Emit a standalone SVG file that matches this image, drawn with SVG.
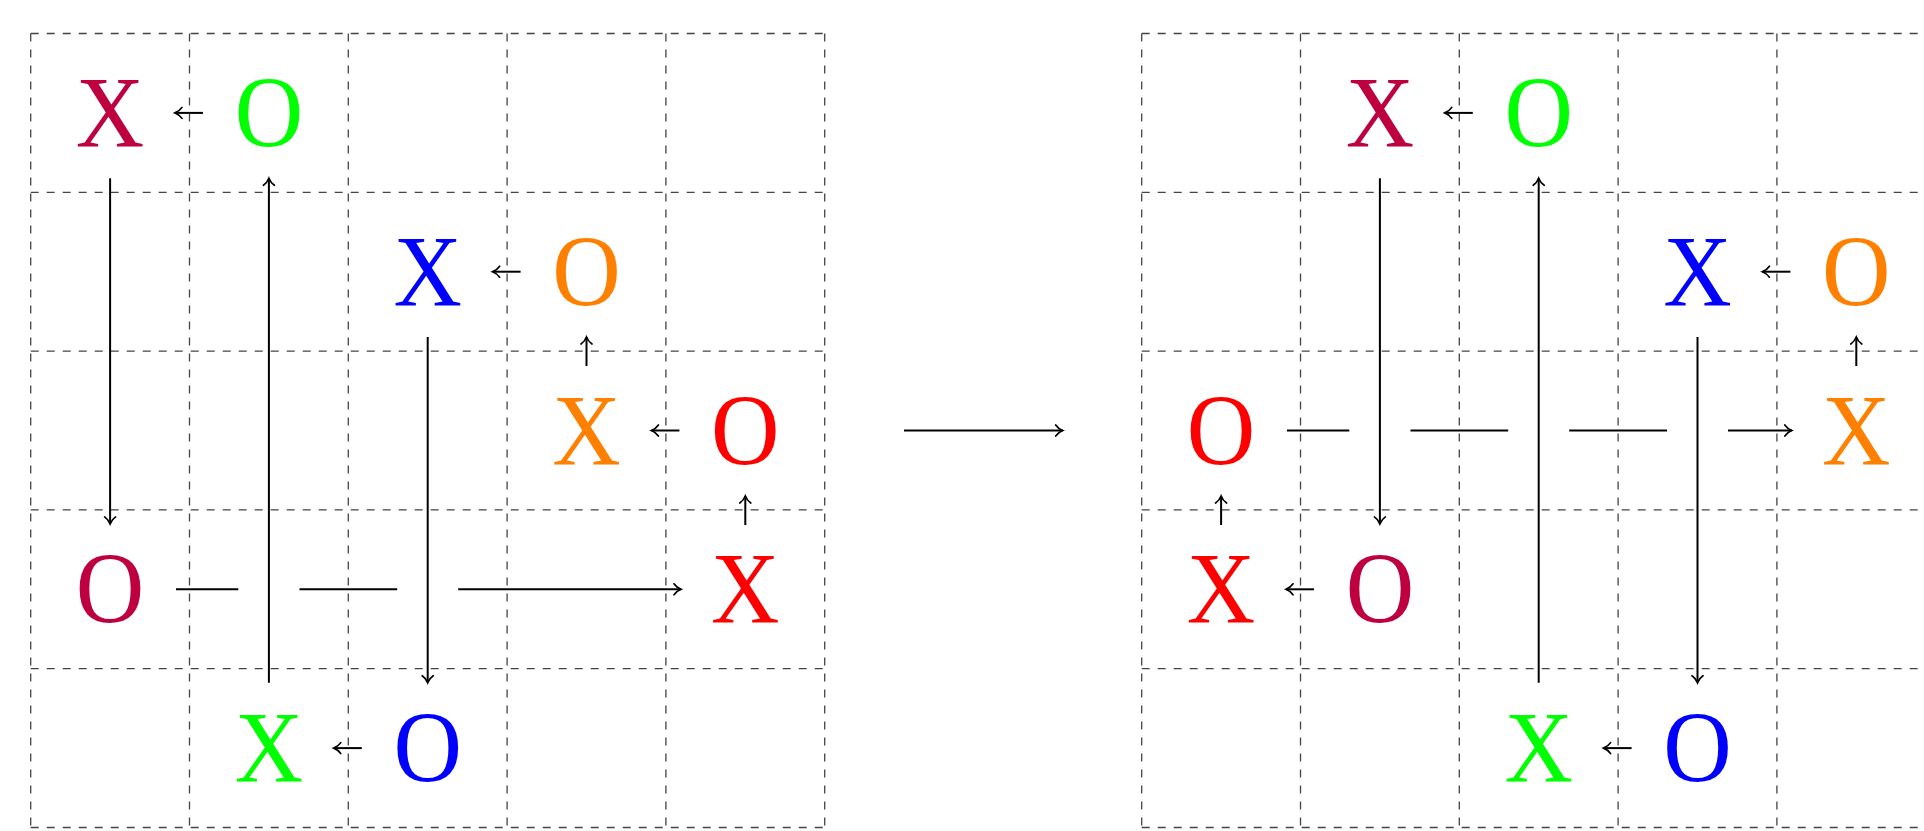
<svg xmlns="http://www.w3.org/2000/svg" width="1924" height="831" viewBox="0 0 1924 831">
<style>
.grid{stroke:#444;stroke-width:1.3;stroke-dasharray:8 8;fill:none}
.c{stroke:#000;stroke-width:2;fill:none}
.a{stroke:#000;stroke-width:2;fill:none;marker-end:url(#ah)}
.t{font-family:"Liberation Serif","Times New Roman",serif;font-size:102px;text-anchor:middle}
.pu{fill:#BF0040}.gr{fill:#00FF00}.bl{fill:#0000FF}.or{fill:#FF8000}.rd{fill:#FF0000}
</style>
<defs>
<marker id="ah" markerUnits="userSpaceOnUse" orient="auto" markerWidth="20" markerHeight="20" refX="0" refY="0" viewBox="-10 -10 20 20" overflow="visible">
<path d="M-7,-5.5 C-5,-2.5 -1.5,-0.6 0,0 C-1.5,0.6 -5,2.5 -7,5.5" stroke="#000" stroke-width="1.7" fill="none" stroke-linecap="round"/>
</marker>
</defs>
<g id="grid-left" class="grid">
<path d="M30.7,33.5V827.5M189.5,33.5V827.5M348.3,33.5V827.5M507.1,33.5V827.5M665.9,33.5V827.5M824.7,33.5V827.5"/>
<path d="M30.7,33.5H824.7M30.7,192.3H824.7M30.7,351.1H824.7M30.7,509.9H824.7M30.7,668.7H824.7M30.7,827.5H824.7"/>
</g>
<g id="grid-right" class="grid">
<path d="M1141.7,33.5V827.5M1300.5,33.5V827.5M1459.3,33.5V827.5M1618.1,33.5V827.5M1776.9,33.5V827.5M1935.7,33.5V827.5"/>
<path d="M1141.7,33.5H1935.7M1141.7,192.3H1935.7M1141.7,351.1H1935.7M1141.7,509.9H1935.7M1141.7,668.7H1935.7M1141.7,827.5H1935.7"/>
</g>
<g id="connectors">
<path class="a" d="M203,112.9H175"/>
<path class="a" d="M520.6,271.7H492.6"/>
<path class="a" d="M679.4,430.5H651.4"/>
<path class="a" d="M361.8,748.1H333.8"/>
<path class="a" d="M745.3,525V496"/>
<path class="a" d="M586.5,366V337"/>
<path class="a" d="M110.1,178.3V523.9"/>
<path class="a" d="M268.9,682.7V178.3"/>
<path class="a" d="M427.7,337.1V682.7"/>
<path class="c" d="M176,589.3H238.3M299.5,589.3H397.2"/>
<path class="a" d="M458.2,589.3H681"/>
<path class="a" d="M904,430.5H1062.7"/>
<path class="a" d="M1472.8,112.9H1444.8"/>
<path class="a" d="M1790.4,271.7H1762.4"/>
<path class="a" d="M1314,589.3H1286"/>
<path class="a" d="M1631.6,748.1H1603.6"/>
<path class="a" d="M1221.1,525V496"/>
<path class="a" d="M1856.3,366V337"/>
<path class="a" d="M1379.9,178.3V523.9"/>
<path class="a" d="M1538.7,682.7V178.3"/>
<path class="a" d="M1697.5,337.1V682.7"/>
<path class="c" d="M1287,430.5H1349.3M1410.5,430.5H1508.2M1569.2,430.5H1667"/>
<path class="a" d="M1728,430.5H1791.8"/>
</g>
<g id="L-X-purple" transform="translate(110.1,146.9) scale(0.93,1)"><text class="t pu">X</text></g>
<g id="L-O-green" transform="translate(268.9,146.9) scale(0.93,1)"><text class="t gr">O</text></g>
<g id="L-X-blue" transform="translate(427.7,305.7) scale(0.93,1)"><text class="t bl">X</text></g>
<g id="L-O-orange" transform="translate(586.5,305.7) scale(0.93,1)"><text class="t or">O</text></g>
<g id="L-X-orange" transform="translate(586.5,464.5) scale(0.93,1)"><text class="t or">X</text></g>
<g id="L-O-red" transform="translate(745.3,464.5) scale(0.93,1)"><text class="t rd">O</text></g>
<g id="L-O-purple" transform="translate(110.1,623.3) scale(0.93,1)"><text class="t pu">O</text></g>
<g id="L-X-red" transform="translate(745.3,623.3) scale(0.93,1)"><text class="t rd">X</text></g>
<g id="L-X-green" transform="translate(268.9,782.1) scale(0.93,1)"><text class="t gr">X</text></g>
<g id="L-O-blue" transform="translate(427.7,782.1) scale(0.93,1)"><text class="t bl">O</text></g>
<g id="R-X-purple" transform="translate(1379.9,146.9) scale(0.93,1)"><text class="t pu">X</text></g>
<g id="R-O-green" transform="translate(1538.7,146.9) scale(0.93,1)"><text class="t gr">O</text></g>
<g id="R-X-blue" transform="translate(1697.5,305.7) scale(0.93,1)"><text class="t bl">X</text></g>
<g id="R-O-orange" transform="translate(1856.3,305.7) scale(0.93,1)"><text class="t or">O</text></g>
<g id="R-O-red" transform="translate(1221.1,464.5) scale(0.93,1)"><text class="t rd">O</text></g>
<g id="R-X-orange" transform="translate(1856.3,464.5) scale(0.93,1)"><text class="t or">X</text></g>
<g id="R-X-red" transform="translate(1221.1,623.3) scale(0.93,1)"><text class="t rd">X</text></g>
<g id="R-O-purple" transform="translate(1379.9,623.3) scale(0.93,1)"><text class="t pu">O</text></g>
<g id="R-X-green" transform="translate(1538.7,782.1) scale(0.93,1)"><text class="t gr">X</text></g>
<g id="R-O-blue" transform="translate(1697.5,782.1) scale(0.93,1)"><text class="t bl">O</text></g>
</svg>
